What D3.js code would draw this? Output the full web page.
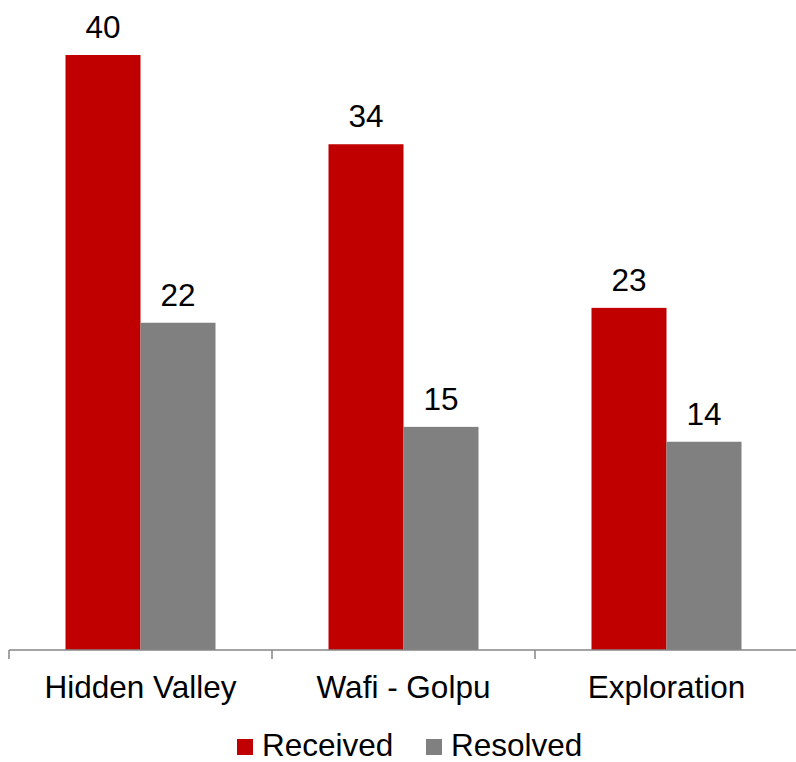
<!DOCTYPE html>
<html>
<head>
<meta charset="utf-8">
<script src="https://cdn.jsdelivr.net/npm/d3@7"></script>
<style>
  body { margin: 0; background: #fff; }
  svg { display: block; font-family: "Liberation Sans", Arial, sans-serif; }
</style>
</head>
<body>
<svg id="chart" width="796" height="762"></svg>
<script>
'use strict';
// data
const categories = ['Hidden Valley', 'Wafi - Golpu', 'Exploration'];
const seriesNames = ['Received', 'Resolved'];
const received = [40, 34, 23];
const resolved = [22, 15, 14];

const colors = { Received: '#c00000', Resolved: '#808080' };

const svg = d3.select('#chart');
const plotL = 9, plotR = 798, plotB = 650, plotT = 55;
const fontSize = '31.5px';

const xScale = d3.scaleBand()
  .domain(categories)
  .range([plotL, plotR])
  .paddingInner(0)
  .paddingOuter(0);

const yScale = d3.scaleLinear()
  .domain([0, 40])
  .range([plotB, plotT]);

const barW = 75;
const xSub = d3.scaleBand()
  .domain(seriesNames)
  .range([0, barW * 2]);

const rows = categories.map((c, i) => ({ cat: c, Received: received[i], Resolved: resolved[i] }));

const groups = svg.append('g')
  .selectAll('g')
  .data(rows)
  .enter()
  .append('g')
  .attr('transform', (d) => `translate(${xScale(d.cat) + xScale.bandwidth() / 2 - barW},0)`);

groups.selectAll('rect')
  .data((d) => seriesNames.map((k) => ({ key: k, value: d[k] })))
  .enter()
  .append('rect')
  .attr('x', (d) => xSub(d.key))
  .attr('y', (d) => yScale(d.value))
  .attr('width', xSub.bandwidth())
  .attr('height', (d) => yScale(0) - yScale(d.value))
  .attr('fill', (d) => colors[d.key]);

groups.selectAll('text')
  .data((d) => seriesNames.map((k) => ({ key: k, value: d[k] })))
  .enter()
  .append('text')
  .attr('x', (d) => xSub(d.key) + xSub.bandwidth() / 2)
  .attr('y', (d) => yScale(d.value) - 17)
  .attr('text-anchor', 'middle')
  .attr('font-size', fontSize)
  .attr('fill', '#000')
  .text((d) => d.value);

// x axis
const axis = svg.append('g')
  .attr('transform', `translate(0,${plotB})`);
axis.append('line')
  .attr('x1', plotL).attr('x2', plotR)
  .attr('y1', 0).attr('y2', 0)
  .attr('stroke', '#868686').attr('stroke-width', 1.5);
const edges = [plotL].concat(categories.map((c) => xScale(c) + xScale.bandwidth()));
axis.selectAll('.tick')
  .data(edges)
  .enter()
  .append('line')
  .attr('x1', (d) => d).attr('x2', (d) => d)
  .attr('y1', 0).attr('y2', 9)
  .attr('stroke', '#868686').attr('stroke-width', 1.5);
axis.selectAll('.lab')
  .data(categories)
  .enter()
  .append('text')
  .attr('x', (d) => xScale(d) + xScale.bandwidth() / 2)
  .attr('y', 48)
  .attr('text-anchor', 'middle')
  .attr('font-size', fontSize)
  .attr('fill', '#000')
  .text((d) => d);

// legend
const legendX = [237, 426];
const legend = svg.append('g');
seriesNames.forEach((k, i) => {
  legend.append('rect')
    .attr('x', legendX[i]).attr('y', 739)
    .attr('width', 16).attr('height', 16)
    .attr('fill', colors[k]);
  legend.append('text')
    .attr('x', legendX[i] + 25).attr('y', 756)
    .attr('font-size', fontSize)
    .attr('fill', '#000')
    .text(k);
});
</script>
</body>
</html>
